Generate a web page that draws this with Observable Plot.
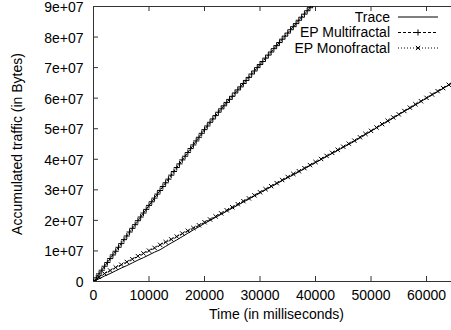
<!DOCTYPE html>
<html><head><meta charset="utf-8">
<script src="https://cdn.jsdelivr.net/npm/d3@7"></script>
<script src="https://cdn.jsdelivr.net/npm/@observablehq/plot@0.6"></script>
<style>
body{margin:0;background:#fff}
#wrap{position:relative;width:451px;height:330px}
#legend{position:absolute;left:0;top:0;pointer-events:none}
</style>
</head><body><div id="wrap"></div>
<script>
// ---- Data (time in seconds, traffic in millions of bytes) ----
const seriesNames = ["Trace", "EP Multifractal", "EP Monofractal"];
const xTicks = [0, 10000, 20000, 30000, 40000, 50000, 60000];
const yTicks = [0, 1e7, 2e7, 3e7, 4e7, 5e7, 6e7, 7e7, 8e7, 9e7];
const xLabel = "Time (in milliseconds)";
const yLabel = "Accumulated traffic (in Bytes)";

const traceT = [0,1,2,3,4,5,6,7,8,9,10,11,12,13,14,15,16,17,18,19,20,21,22,23,24,25,26,27,28,29,30,31,32,33,34,35,36,37,38,39,40,41,42,43,44,45,46,47,48,49,50,51,52,53,54,55,56,57,58,59,60,61,62,63,64,65];
const traceV = [0,0.9,1.8,2.6,3.5,4.4,5.2,6.1,7.0,7.8,8.7,9.6,10.4,11.5,12.6,13.6,14.7,15.8,16.9,17.9,19.0,20.0,21.0,22.0,23.0,24.0,25.0,26.0,27.0,28.0,29.0,30.0,31.0,32.0,33.0,34.0,34.9,35.9,36.9,37.9,38.9,39.9,40.9,41.9,42.9,43.9,44.9,45.9,47.0,48.1,49.2,50.3,51.4,52.4,53.5,54.6,55.7,56.7,57.8,58.9,60.0,61.1,62.1,63.2,64.3,65.4];

const multiT = [0,0.5,1,1.5,2,2.5,3,3.5,4,4.5,5,5.5,6,6.5,7,7.5,8,8.5,9,9.5,10,10.5,11,11.5,12,12.5,13,13.5,14,14.5,15,15.5,16,16.5,17,17.5,18,18.5,19,19.5,20,20.5,21,21.5,22,22.5,23,23.5,24,24.5,25,25.5,26,26.5,27,27.5,28,28.5,29,29.5,30,30.5,31,31.5,32,32.5,33,33.5,34,34.5,35,35.5,36,36.5,37,37.5,38,38.5,39,39.5,40];
const multiV = [0,1.2,2.5,3.7,5.0,6.2,7.5,8.7,9.9,11.2,12.4,13.7,14.9,16.2,17.4,18.6,19.9,21.1,22.4,23.6,24.9,26.1,27.3,28.6,29.8,31.1,32.3,33.5,34.8,36.0,37.3,38.5,39.8,41.0,42.2,43.5,44.7,46.0,47.2,48.5,49.7,50.9,52.1,53.2,54.3,55.4,56.5,57.5,58.6,59.6,60.6,61.7,62.7,63.7,64.8,65.8,66.8,67.9,68.9,70.0,71.0,72.0,73.1,74.1,75.1,76.2,77.2,78.2,79.3,80.3,81.3,82.4,83.4,84.4,85.5,86.5,87.5,88.6,89.6,90.6,91.7];

const monoT = [0,1,2,3,4,5,6,7,8,9,10,11,12,13,14,15,16,17,18,19,20,21,22,23,24,25,26,27,28,29,30,31,32,33,34,35,36,37,38,39,40,41,42,43,44,45,46,47,48,49,50,51,52,53,54,55,56,57,58,59,60,61,62,63,64,65];
const monoV = [0,1.5,2.6,3.6,4.6,5.5,6.4,7.3,8.3,9.2,10.1,11.0,12.0,12.9,13.8,14.7,15.7,16.6,17.5,18.4,19.4,20.3,21.3,22.3,23.3,24.3,25.3,26.3,27.2,28.2,29.2,30.2,31.2,32.2,33.2,34.2,35.2,36.1,37.1,38.1,39.1,40.1,41.1,42.1,43.1,44.1,45.1,46.1,47.2,48.3,49.3,50.4,51.5,52.6,53.7,54.7,55.8,56.9,58.0,59.0,60.1,61.2,62.3,63.3,64.4,65.5];

const rows = (T, V) => T.map((t, i) => ({t: t * 1000, v: V[i] * 1e6}));
const trace = rows(traceT, traceV);
const multi = rows(multiT, multiV);
const mono = rows(monoT, monoV);

const W = 451, H = 330, mL = 93, mR = 0, mT = 6, mB = 49;
const iw = W - mL - mR, ih = H - mT - mB;
const axisColor = "#333";
const font = '"Liberation Sans", Arial, Helvetica, sans-serif';
const fmt = d => d === 0 ? "0" : `${d / 1e7}e+07`;
const dashes = {"EP Multifractal": "3,2", "EP Monofractal": "1,2"};
const symbols = {"EP Multifractal": "plus", "EP Monofractal": "times"};
const R = 2.1;

const chart = Plot.plot({
  width: W, height: H,
  marginLeft: mL, marginRight: mR, marginTop: mT, marginBottom: mB,
  x: {domain: [0, 64500]},
  y: {domain: [yTicks[0], yTicks[yTicks.length - 1]]},
  style: {fontFamily: font, fontSize: "14px", color: "black", background: "white", overflow: "visible"},
  marks: [
    Plot.ruleY([yTicks[0], yTicks[yTicks.length - 1]], {stroke: axisColor}),
    Plot.ruleX([xTicks[0]], {stroke: axisColor}),
    Plot.ruleY(yTicks, {stroke: axisColor, insetRight: iw - 5}),
    Plot.ruleX(xTicks, {stroke: axisColor, insetTop: ih - 5}),
    Plot.ruleX(xTicks, {stroke: axisColor, insetBottom: ih - 5}),
    Plot.axisX({ticks: xTicks, tickSize: 0, tickPadding: 9, label: null, fontSize: 14, tickFormat: d => String(d)}),
    Plot.axisY({ticks: yTicks, tickSize: 0, tickPadding: 10, label: null, fontSize: 14, tickFormat: fmt, dy: 1}),
    Plot.text([xLabel], {frameAnchor: "bottom", dy: 37, dx: 4, text: d => d, fontSize: 14}),
    Plot.text([yLabel], {frameAnchor: "left", dx: -76, rotate: -90, textAnchor: "middle", text: d => d, fontSize: 14}),
    Plot.line(trace, {x: "t", y: "v", stroke: "black", strokeWidth: 1, clip: true}),
    Plot.line(mono, {x: "t", y: "v", stroke: "black", strokeWidth: 1, strokeDasharray: dashes["EP Monofractal"], clip: true}),
    Plot.dot(mono, {x: "t", y: "v", symbol: symbols["EP Monofractal"], r: R, stroke: "black", strokeWidth: 1, clip: true}),
    Plot.line(multi, {x: "t", y: "v", stroke: "black", strokeWidth: 1, strokeDasharray: dashes["EP Multifractal"], clip: true}),
    Plot.dot(multi, {x: "t", y: "v", symbol: symbols["EP Multifractal"], r: R, stroke: "black", strokeWidth: 1, clip: true})
  ]
});
const wrap = document.getElementById("wrap");
wrap.appendChild(chart);

// ---- Legend (top-right, inside the frame) ----
const leg = d3.select(wrap).append("svg").attr("id", "legend")
  .attr("width", W).attr("height", 70)
  .style("font-family", font).style("font-size", "14px");
const rowY = [17, 32.5, 48];
const symMap = {plus: d3.symbolPlus, times: d3.symbolTimes};
seriesNames.forEach((name, i) => {
  const g = leg.append("g").attr("transform", `translate(0,${rowY[i]})`);
  g.append("text").attr("x", 390).attr("dy", "0.35em").attr("text-anchor", "end").attr("fill", "black").text(name);
  g.append("line").attr("x1", 398).attr("x2", 438).attr("stroke", "black").attr("stroke-width", 1)
    .attr("stroke-dasharray", dashes[name] || null);
  if (symbols[name]) {
    g.append("path").attr("transform", "translate(418,0)")
      .attr("d", d3.symbol(symMap[symbols[name]], R * R * Math.PI)())
      .attr("fill", "none").attr("stroke", "black").attr("stroke-width", 1);
  }
});
</script></body></html>
